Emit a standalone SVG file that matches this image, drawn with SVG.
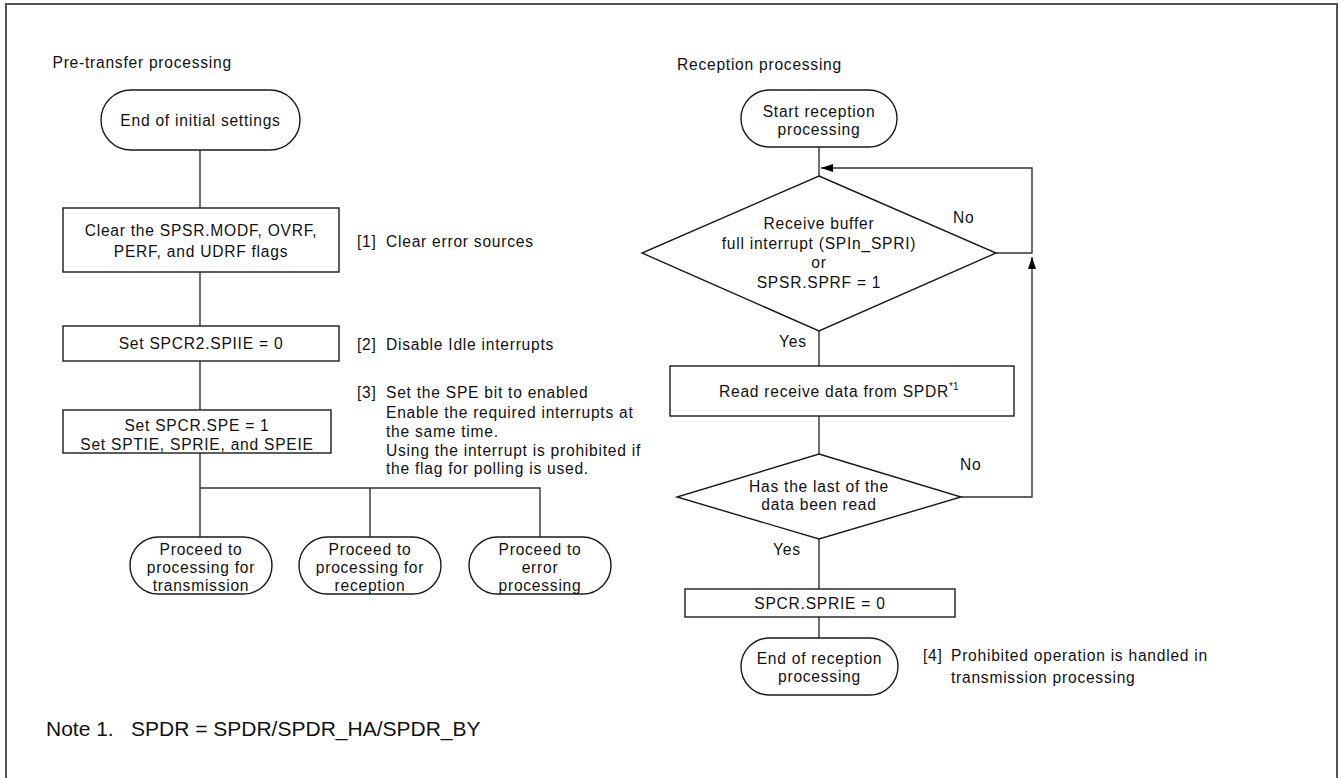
<svg xmlns="http://www.w3.org/2000/svg" width="1343" height="778" viewBox="0 0 1343 778">
<style>
.frame{fill:none;stroke:#555;stroke-width:2}
.shape{fill:#fff;stroke:#1a1a1a;stroke-width:1.4}
.ln{fill:none;stroke:#333;stroke-width:1.4}
text{font-family:"Liberation Sans",Arial,sans-serif;font-size:15.6px;letter-spacing:0.75px;fill:#111}
.c{text-anchor:middle}
.note{font-size:21px;letter-spacing:0}
.sup{font-size:10px;letter-spacing:0}
</style>
<defs>
<marker id="ah" viewBox="0 0 12 8" refX="12" refY="4" markerWidth="12" markerHeight="8" markerUnits="userSpaceOnUse" orient="auto">
<path d="M0,0 L12,4 L0,8 z" fill="#000"/>
</marker>
</defs>
<rect class="frame" x="6" y="4" width="1331" height="800"/>

<text x="52.5" y="68">Pre-transfer processing</text>
<text x="677" y="70">Reception processing</text>

<g id="connectors">
<path class="ln" d="M200,150 V208"/>
<path class="ln" d="M200,272 V326"/>
<path class="ln" d="M200,361 V410"/>
<path class="ln" d="M200,453 V537 M200,488 H540 V537 M370,488 V537"/>
<path class="ln" d="M819,147 V176"/>
<path class="ln" d="M819,331 V366"/>
<path class="ln" d="M819,416 V454"/>
<path class="ln" d="M819,539 V589"/>
<path class="ln" d="M819,617 V638"/>
<path class="ln" d="M996,253 H1032 V168 H821" marker-end="url(#ah)"/>
<path class="ln" d="M961,497 H1032 V257" marker-end="url(#ah)"/>
<text x="953" y="223">No</text>
<text x="779" y="347">Yes</text>
<text x="960" y="470">No</text>
<text x="773" y="555">Yes</text>
</g>

<g id="n-end-init">
<rect class="shape" x="101" y="90" width="199" height="60" rx="30"/>
<text class="c" x="200.5" y="126">End of initial settings</text>
</g>
<g id="n-clear">
<rect class="shape" x="63" y="208" width="276" height="64"/>
<text class="c" x="201" y="236">Clear the SPSR.MODF, OVRF,</text>
<text class="c" x="201" y="257">PERF, and UDRF flags</text>
</g>
<g id="a-1"><text x="357" y="247">[1]<tspan x="386">Clear error sources</tspan></text></g>
<g id="n-spiie">
<rect class="shape" x="63" y="326" width="276" height="35"/>
<text class="c" x="201" y="349">Set SPCR2.SPIIE = 0</text>
</g>
<g id="a-2"><text x="357" y="350">[2]<tspan x="386">Disable Idle interrupts</tspan></text></g>
<g id="n-spe">
<rect class="shape" x="63" y="410" width="268" height="43"/>
<text class="c" x="197" y="431">Set SPCR.SPE = 1</text>
<text class="c" x="197" y="450">Set SPTIE, SPRIE, and SPEIE</text>
</g>
<g id="a-3">
<text x="357" y="398">[3]<tspan x="386">Set the SPE bit to enabled</tspan></text>
<text x="386" y="418">Enable the required interrupts at</text>
<text x="386" y="437">the same time.</text>
<text x="386" y="456">Using the interrupt is prohibited if</text>
<text x="386" y="474">the flag for polling is used.</text>
</g>
<g id="n-tx">
<rect class="shape" x="130" y="537" width="142" height="57" rx="28.5"/>
<text class="c" x="201" y="555">Proceed to</text>
<text class="c" x="201" y="573">processing for</text>
<text class="c" x="201" y="591">transmission</text>
</g>
<g id="n-rx">
<rect class="shape" x="299" y="537" width="142" height="57" rx="28.5"/>
<text class="c" x="370" y="555">Proceed to</text>
<text class="c" x="370" y="573">processing for</text>
<text class="c" x="370" y="591">reception</text>
</g>
<g id="n-err">
<rect class="shape" x="469" y="537" width="142" height="57" rx="28.5"/>
<text class="c" x="540" y="555">Proceed to</text>
<text class="c" x="540" y="573">error</text>
<text class="c" x="540" y="591">processing</text>
</g>

<g id="n-start">
<rect class="shape" x="741" y="90" width="156" height="57" rx="28.5"/>
<text class="c" x="819" y="117">Start reception</text>
<text class="c" x="819" y="135">processing</text>
</g>
<g id="n-d1">
<polygon class="shape" points="819,176 996,253 819,331 642,253"/>
<text class="c" x="819" y="229">Receive buffer</text>
<text class="c" x="819" y="249">full interrupt (SPIn_SPRI)</text>
<text class="c" x="819" y="268">or</text>
<text class="c" x="819" y="288">SPSR.SPRF = 1</text>
</g>
<g id="n-read">
<rect class="shape" x="670" y="366" width="344" height="50"/>
<text x="719" y="397">Read receive data from SPDR<tspan class="sup" dy="-7">*1</tspan></text>
</g>
<g id="n-d2">
<polygon class="shape" points="819,454 961,497 819,539 677,497"/>
<text class="c" x="819" y="492">Has the last of the</text>
<text class="c" x="819" y="509.5">data been read</text>
</g>
<g id="n-sprie">
<rect class="shape" x="685" y="589" width="270" height="28"/>
<text class="c" x="820" y="609">SPCR.SPRIE = 0</text>
</g>
<g id="n-end-rx">
<rect class="shape" x="741" y="638" width="157" height="57" rx="28.5"/>
<text class="c" x="819.5" y="664">End of reception</text>
<text class="c" x="819.5" y="682">processing</text>
</g>
<g id="a-4">
<text x="923" y="661">[4]<tspan x="951">Prohibited operation is handled in</tspan></text>
<text x="951" y="683">transmission processing</text>
</g>

<text class="note" x="46" y="736">Note 1.<tspan x="131">SPDR = SPDR/SPDR_HA/SPDR_BY</tspan></text>
</svg>
